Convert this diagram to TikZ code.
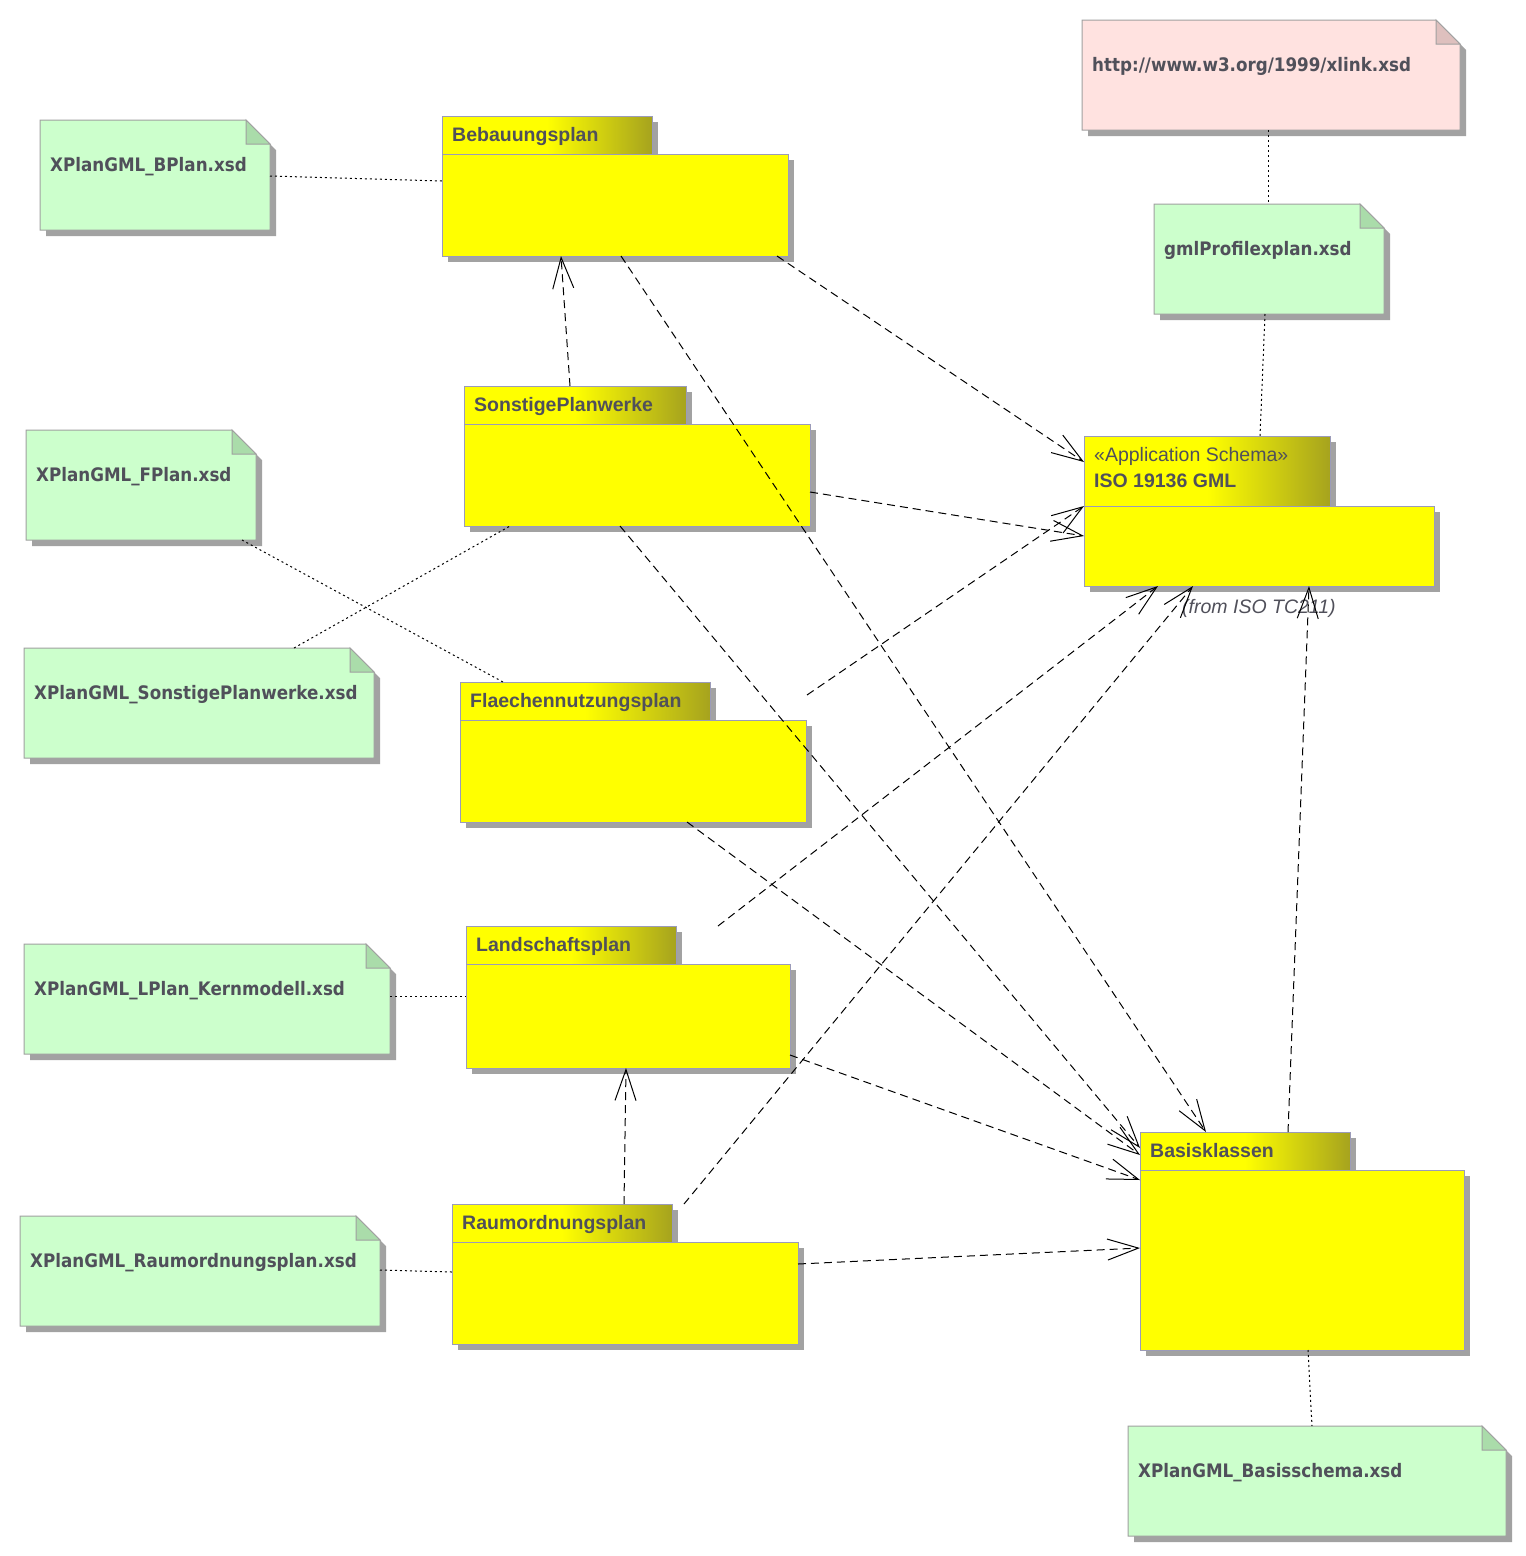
\documentclass[tikz,border=0pt]{standalone}
\usepackage{fontspec}
\setmainfont{Liberation Sans}
\newfontfamily\notefont{DejaVu Sans Condensed}
\usetikzlibrary{arrows.meta}
\definecolor{pkgyellow}{RGB}{255,255,0}
\definecolor{tabolive}{RGB}{166,163,30}
\definecolor{pkgborder}{RGB}{155,155,185}
\definecolor{noteborder}{RGB}{160,160,160}
\definecolor{shadowgray}{RGB}{162,162,162}
\definecolor{notegreen}{RGB}{204,255,204}
\definecolor{foldgreen}{RGB}{170,220,170}
\definecolor{notepink}{RGB}{255,226,224}
\definecolor{foldpink}{RGB}{222,192,190}
\definecolor{txtgray}{RGB}{80,80,90}
\pgfdeclarehorizontalshading{tabshade}{100bp}{color(0bp)=(pkgyellow); color(50bp)=(pkgyellow); color(75bp)=(tabolive); color(100bp)=(tabolive)}
\tikzset{
  pkgtab/.style={draw=pkgborder, line width=1pt, shading=tabshade, anchor=north west, inner sep=0pt, outer sep=0pt},
  pkgbody/.style={draw=pkgborder, line width=1pt, fill=pkgyellow, anchor=north west, inner sep=0pt, outer sep=0pt},
  pkgname/.style={anchor=base west, inner sep=0pt, text=txtgray, font=\fontsize{19.5}{23}\selectfont\bfseries},
  notebg/.style={anchor=north west, inner sep=0pt, outer sep=0pt},
  notename/.style={anchor=base west, inner sep=0pt, text=txtgray, font=\notefont\fontsize{18.6}{22}\selectfont\bfseries},
  dep/.style={line width=1pt, dash pattern=on 8pt off 5pt, -{Straight Barb[length=31pt,width=21pt]}},
  lnk/.style={line width=1pt, dash pattern=on 2pt off 3pt},
}
% #1 name #2 x #3 y #4 tabw #5 tabh #6 bodyw #7 bodyh #8 label
\newcommand\pkgbox[8]{%
  \fill[shadowgray] (#2+6,#3+6) rectangle (#2+#4+6,#3+#5+6);
  \node[pkgtab, minimum width=#4pt, minimum height=#5pt] (#1tab) at (#2,#3) {};
  \fill[shadowgray] (#2+6,#3+#5+6) rectangle (#2+#6+6,#3+#5+#7+6);
  \node[pkgbody, minimum width=#6pt, minimum height=#7pt] (#1) at (#2,#3+#5) {};
  \node[pkgname] (#1lbl) at (#2+10,#3+25) {#8};
}
% #1 name #2 x #3 y #4 w #5 h #6 fill #7 fold #8 text
\newcommand\notebox[8]{%
  \fill[shadowgray] (#2+6,#3+6) -- (#2+#4-24+6,#3+6) -- (#2+#4+6,#3+24+6) -- (#2+#4+6,#3+#5+6) -- (#2+6,#3+#5+6) -- cycle;
  \node[notebg, minimum width=#4pt, minimum height=#5pt] (#1) at (#2,#3) {};
  \filldraw[fill=#6, draw=noteborder, line width=1pt] (#1.north west) -- ([xshift=-24pt]#1.north east) -- ([yshift=-24pt]#1.north east) -- (#1.south east) -- (#1.south west) -- cycle;
  \filldraw[fill=#7, draw=noteborder, line width=1pt] ([xshift=-24pt]#1.north east) -- ([xshift=-24pt,yshift=-24pt]#1.north east) -- ([yshift=-24pt]#1.north east) -- cycle;
  \node[notename] (#1lbl) at (#2+10,#3+51) {#8};
}
\begin{document}
\begin{tikzpicture}[x=1pt,y=-1pt]
\useasboundingbox (0,0) rectangle (1526,1556);
\fill[white] (0,0) rectangle (1526,1556);

% notes
\notebox{nb}{40}{120}{230}{110}{notegreen}{foldgreen}{XPlanGML\_BPlan.xsd}
\notebox{nf}{26}{430}{230}{110}{notegreen}{foldgreen}{XPlanGML\_FPlan.xsd}
\notebox{ns}{24}{648}{350}{110}{notegreen}{foldgreen}{XPlanGML\_SonstigePlanwerke.xsd}
\notebox{nl}{24}{944}{366}{110}{notegreen}{foldgreen}{XPlanGML\_LPlan\_Kernmodell.xsd}
\notebox{nr}{20}{1216}{360}{110}{notegreen}{foldgreen}{XPlanGML\_Raumordnungsplan.xsd}
\notebox{ngml}{1154}{204}{230}{110}{notegreen}{foldgreen}{gmlProfilexplan.xsd}
\notebox{nbas}{1128}{1426}{378}{110}{notegreen}{foldgreen}{XPlanGML\_Basisschema.xsd}
\notebox{nx}{1082}{20}{378}{110}{notepink}{foldpink}{http://www.w3.org/1999/xlink.xsd}

% packages
\pkgbox{beb}{442}{116}{210}{38}{346}{102}{Bebauungsplan}
\pkgbox{son}{464}{386}{222}{38}{346}{102}{SonstigePlanwerke}
\pkgbox{fnp}{460}{682}{250}{38}{346}{102}{Flaechennutzungsplan}
\pkgbox{lsp}{466}{926}{210}{38}{324}{104}{Landschaftsplan}
\pkgbox{rop}{452}{1204}{220}{38}{346}{102}{Raumordnungsplan}
\pkgbox{bas}{1140}{1132}{210}{38}{324}{180}{Basisklassen}
\pkgbox{iso}{1084}{436}{246}{70}{350}{80}{}
\node[anchor=base west, inner sep=0pt, text=txtgray, font=\fontsize{19.5}{23}\selectfont] (isost) at (1094,461) {«Application Schema»};
\node[pkgname] (isoname) at (1094,487) {ISO 19136 GML};
\node[anchor=base west, inner sep=0pt, text=txtgray, font=\fontsize{19.5}{23}\selectfont\itshape] (isofrom) at (1182,613) {(from ISO TC211)};

% note links
\draw[lnk] ([shift={(230,56)}]nb.north west) -- ([shift={(0,27)}]beb.north west);
\draw[lnk] ([shift={(216,110)}]nf.north west) -- ([shift={(43,0)}]fnptab.north west);
\draw[lnk] ([shift={(270,0)}]ns.north west) -- ([shift={(46,102)}]son.north west);
\draw[lnk] ([shift={(366,52)}]nl.north west) -- ([shift={(0,32)}]lsp.north west);
\draw[lnk] ([shift={(360,54)}]nr.north west) -- ([shift={(0,30)}]rop.north west);
\draw[lnk] ([shift={(186,110)}]nx.north west) -- ([shift={(114,0)}]ngml.north west);
\draw[lnk] ([shift={(111,110)}]ngml.north west) -- ([shift={(176,0)}]isotab.north west);
\draw[lnk] ([shift={(168,180)}]bas.north west) -- ([shift={(184,0)}]nbas.north west);

% dependencies
\draw[dep] ([shift={(106,0)}]sontab.north west) -- ([shift={(119,102)}]beb.north west);
\draw[dep] ([shift={(172,0)}]roptab.north west) -- ([shift={(160,104)}]lsp.north west);
\draw[dep] ([shift={(335,102)}]beb.north west) -- ([shift={(0,26)}]isotab.north west);
\draw[dep] ([shift={(346,68)}]son.north west) -- ([shift={(0,30)}]iso.north west);
\draw[dep] ([shift={(347,13)}]fnptab.north west) -- (iso.north west);
\draw[dep] ([shift={(252,0)}]lsptab.north west) -- ([shift={(74,80)}]iso.north west);
\draw[dep] ([shift={(232,0)}]roptab.north west) -- ([shift={(109,80)}]iso.north west);
\draw[dep] ([shift={(148,0)}]bastab.north west) -- ([shift={(225,80)}]iso.north west);
\draw[dep] ([shift={(179,102)}]beb.north west) -- ([shift={(66,0)}]bastab.north west);
\draw[dep] ([shift={(156,102)}]son.north west) -- ([shift={(0,16)}]bastab.north west);
\draw[dep] ([shift={(227,102)}]fnp.north west) -- ([shift={(0,23)}]bastab.north west);
\draw[dep] ([shift={(324,91)}]lsp.north west) -- ([shift={(0,10)}]bas.north west);
\draw[dep] ([shift={(346,22)}]rop.north west) -- ([shift={(0,78)}]bas.north west);
\end{tikzpicture}
\end{document}
